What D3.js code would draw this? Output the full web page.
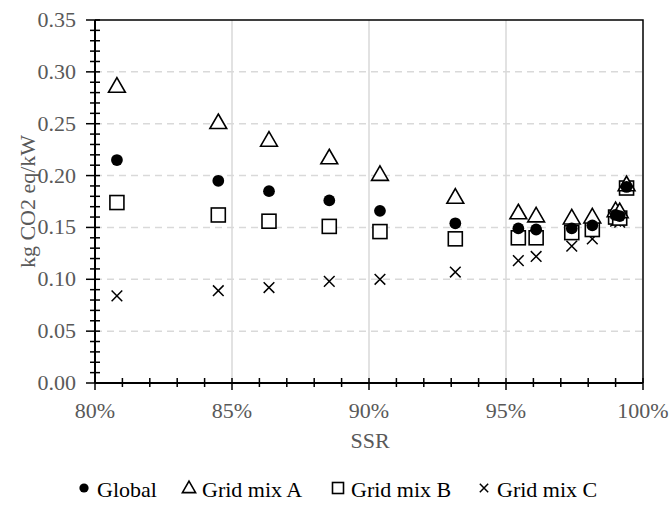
<!DOCTYPE html>
<html>
<head>
<meta charset="utf-8">
<script src="https://cdn.jsdelivr.net/npm/d3@7"></script>
</head>
<body style="margin:0">
<svg id="s" width="671" height="509"></svg>
<script>
// MARK: Data.

const ssr    = [80.8, 84.5, 86.35, 88.55, 90.4, 93.15, 95.45, 96.1, 97.4, 98.15, 99.0, 99.15, 99.4]
const global = [0.215, 0.195, 0.185, 0.176, 0.166, 0.154, 0.149, 0.148, 0.149, 0.152, 0.162, 0.161, 0.189]
const gridA  = [0.286, 0.251, 0.234, 0.217, 0.201, 0.179, 0.164, 0.161, 0.159, 0.160, 0.166, 0.165, 0.191]
const gridB  = [0.174, 0.162, 0.156, 0.151, 0.146, 0.139, 0.140, 0.140, 0.145, 0.148, 0.160, 0.159, 0.188]
const gridC  = [0.084, 0.089, 0.092, 0.098, 0.100, 0.107, 0.118, 0.122, 0.132, 0.139, 0.156, 0.155, 0.187]

const xTicks = [80, 85, 90, 95, 100]
const yTicks = [0, 0.05, 0.10, 0.15, 0.20, 0.25, 0.30, 0.35]

const series = [
  { name: 'Global',     values: global, shape: 'circle'   },
  { name: 'Grid mix A', values: gridA,  shape: 'triangle' },
  { name: 'Grid mix B', values: gridB,  shape: 'square'   },
  { name: 'Grid mix C', values: gridC,  shape: 'cross'    },
]

// MARK: Layout.

const svg = d3.select('#s')
const M = { left: 95, right: 643, top: 20, bottom: 383 }
const GREY = '#595959'

const x = d3.scaleLinear().domain([80, 100]).range([M.left, M.right])
const y = d3.scaleLinear().domain([0, 0.35]).range([M.bottom, M.top])

// Gridlines: solid verticals, dashed horizontals
svg.append('g').selectAll('line')
  .data(xTicks.slice(1, -1)).enter().append('line')
  .attr('x1', (d) => x(d)).attr('x2', (d) => x(d))
  .attr('y1', M.top).attr('y2', M.bottom)
  .attr('stroke', '#d9d9d9').attr('stroke-width', 1.5)

svg.append('g').selectAll('line')
  .data(yTicks.slice(1, -1)).enter().append('line')
  .attr('x1', M.left).attr('x2', M.right)
  .attr('y1', (d) => y(d)).attr('y2', (d) => y(d))
  .attr('stroke', '#d9d9d9').attr('stroke-width', 1.5)
  .attr('stroke-dasharray', '7,5')

// Plot frame (top and right)
svg.append('path')
  .attr('d', `M${M.left},${M.top} H${M.right} V${M.bottom}`)
  .attr('fill', 'none').attr('stroke', '#000').attr('stroke-width', 1.5)

// Y axis with minor ticks every 0.01
svg.append('line')
  .attr('x1', M.left).attr('x2', M.left).attr('y1', M.top).attr('y2', M.bottom)
  .attr('stroke', '#000').attr('stroke-width', 2)
svg.append('g').selectAll('line')
  .data(d3.range(0, 36).map((i) => i / 100)).enter().append('line')
  .attr('x1', (d, i) => M.left - (i % 5 === 0 ? 9 : 5)).attr('x2', M.left + 5)
  .attr('y1', (d) => y(d)).attr('y2', (d) => y(d))
  .attr('stroke', '#000').attr('stroke-width', 1.5)

// X axis with minor ticks every 1%
svg.append('line')
  .attr('x1', M.left).attr('x2', M.right).attr('y1', M.bottom).attr('y2', M.bottom)
  .attr('stroke', '#000').attr('stroke-width', 2)
svg.append('g').selectAll('line')
  .data(d3.range(80, 101)).enter().append('line')
  .attr('x1', (d) => x(d)).attr('x2', (d) => x(d))
  .attr('y1', M.bottom - 5).attr('y2', (d) => M.bottom + (d % 5 === 0 ? 7 : 4))
  .attr('stroke', '#000').attr('stroke-width', 1.5)

// MARK: Texts, all placed straight on the svg the same way.

const labels = []
yTicks.forEach((d) => labels.push({ t: d3.format('.2f')(d), x: M.left - 19, y: y(d) + 7, a: 'end', c: GREY }))
xTicks.forEach((d) => labels.push({ t: d + '%', x: x(d), y: M.bottom + 35, a: 'middle', c: GREY }))
labels.push({ t: 'SSR', x: 370, y: 448, a: 'middle', c: GREY })

svg.selectAll('text.lab').data(labels).enter().append('text')
  .attr('class', 'lab')
  .attr('x', (d) => d.x).attr('y', (d) => d.y)
  .attr('font-size', 22)
  .attr('text-anchor', (d) => d.a)
  .attr('fill', (d) => d.c)
  .style('font-family', "'Liberation Serif'")
  .text((d) => d.t)

svg.append('text')
  .attr('transform', `translate(35,${(M.top + M.bottom) / 2}) rotate(-90)`)
  .attr('text-anchor', 'middle')
  .attr('font-size', 22)
  .attr('fill', GREY)
  .style('font-family', "'Liberation Serif'")
  .text('kg CO2 eq/kW')

// MARK: Markers.

function drawMarker(g, shape, size) {
  const s = size
  if (shape === 'circle') {
    g.append('circle').attr('r', s * 0.42).attr('fill', '#000')
  } else if (shape === 'triangle') {
    g.append('path')
      .attr('d', `M0,${-s * 0.62} L${s * 0.6},${s * 0.42} L${-s * 0.6},${s * 0.42} Z`)
      .attr('fill', '#fff').attr('stroke', '#000').attr('stroke-width', 1.6)
  } else if (shape === 'square') {
    g.append('rect')
      .attr('x', -s * 0.5).attr('y', -s * 0.5).attr('width', s).attr('height', s)
      .attr('fill', '#fff').attr('stroke', '#000').attr('stroke-width', 1.6)
  } else {
    const h = s * 0.38
    g.append('path')
      .attr('d', `M${-h},${-h} L${h},${h} M${h},${-h} L${-h},${h}`)
      .attr('stroke', '#000').attr('stroke-width', 1.5)
  }
}

// Global sits on top of the open markers, so draw the series back to front
series.slice().reverse().forEach((s) => {
  svg.append('g').selectAll('g')
    .data(s.values).enter().append('g')
    .attr('transform', (d, i) => `translate(${x(ssr[i])},${y(d)})`)
    .each(function () { drawMarker(d3.select(this), s.shape, 14) })
})

// MARK: Legend.

const legendX = [84, 189, 338, 484]
series.forEach((s, i) => {
  drawMarker(svg.append('g').attr('transform', `translate(${legendX[i]},488)`), s.shape, 11)
})
svg.selectAll('text.leg').data(series).enter().append('text')
  .attr('class', 'leg')
  .attr('x', (d, i) => legendX[i] + 13).attr('y', 497)
  .attr('font-size', 22)
  .attr('fill', '#000')
  .style('font-family', "'Liberation Serif'")
  .text((d) => d.name)
</script>
</body>
</html>
